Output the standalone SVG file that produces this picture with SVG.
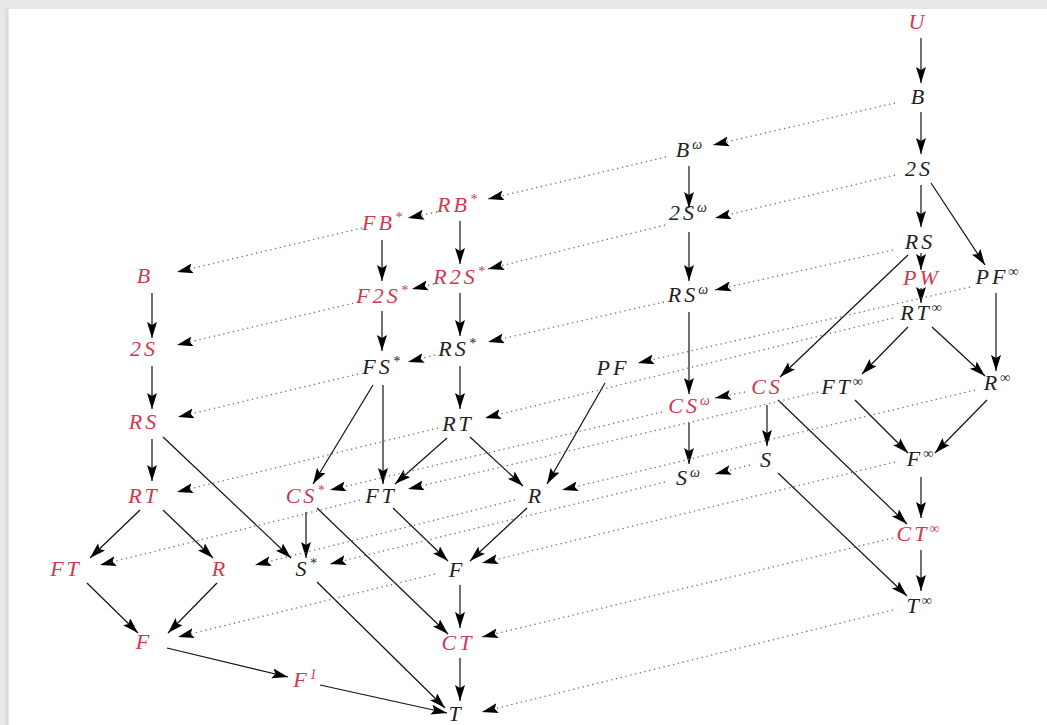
<svg xmlns="http://www.w3.org/2000/svg" width="1047" height="725" viewBox="0 0 1047 725">
<defs>
<style>
text{font-family:"Liberation Serif","DejaVu Serif",serif;font-style:italic;font-size:22px;letter-spacing:3px;text-anchor:middle;fill:#222}
text.r{fill:#d0384e}
.sup{font-size:14px;letter-spacing:0}
.s{fill:none;stroke:#111;stroke-width:1.2;marker-end:url(#ah)}
.d{fill:none;stroke:#707070;stroke-width:1.3;stroke-dasharray:1.3 3.6;marker-end:url(#ah)}
</style>
<marker id="ah" markerUnits="userSpaceOnUse" markerWidth="18" markerHeight="12" refX="16" refY="5" orient="auto">
<path d="M0,0 L16,5 L0,10 L3,5 Z" fill="#000"/>
</marker>
</defs>
<rect x="0" y="0" width="1047" height="725" fill="#e8e8e8"/>
<rect x="5" y="9" width="3" height="716" fill="#dcdcdc"/>
<rect x="9" y="9" width="1038" height="716" fill="#ffffff"/>

<g id="connectors">
<!-- solid, right column -->
<path class="s" d="M921,38 L921,83"/>
<path class="s" d="M921,112 L921,154"/>
<path class="s" d="M921,185 L921,227"/>
<path class="s" d="M931,183 L985,265"/>
<path class="s" d="M921,253 L921,270"/>
<path class="s" d="M921,288 L921,303"/>
<path class="s" d="M996,293 L996,371"/>
<path class="s" d="M908,255 L780,377"/>
<path class="s" d="M908,327 L862,374"/>
<path class="s" d="M932,327 L985,376"/>
<path class="s" d="M855,400 L908,453"/>
<path class="s" d="M987,400 L935,453"/>
<path class="s" d="M767,405 L767,446"/>
<path class="s" d="M778,400 L907,524"/>
<path class="s" d="M921,477 L921,518"/>
<path class="s" d="M921,550 L921,591"/>
<path class="s" d="M778,473 L907,596"/>
<!-- solid, omega column -->
<path class="s" d="M689,166 L689,208"/>
<path class="s" d="M689,232 L689,281"/>
<path class="s" d="M689,312 L689,394"/>
<path class="s" d="M689,423 L689,464"/>
<!-- solid, star columns -->
<path class="s" d="M460,221 L460,264"/>
<path class="s" d="M460,293 L460,336"/>
<path class="s" d="M460,366 L460,409"/>
<path class="s" d="M382,240 L382,281"/>
<path class="s" d="M382,311 L382,351"/>
<path class="s" d="M373,385 L313,484"/>
<path class="s" d="M383,385 L383,484"/>
<path class="s" d="M447,438 L395,484"/>
<path class="s" d="M470,437 L523,486"/>
<path class="s" d="M605,383 L547,484"/>
<path class="s" d="M306,512 L306,558"/>
<path class="s" d="M317,508 L448,634"/>
<path class="s" d="M393,508 L448,561"/>
<path class="s" d="M527,508 L470,561"/>
<path class="s" d="M460,585 L460,628"/>
<path class="s" d="M460,658 L460,701"/>
<path class="s" d="M317,582 L445,708"/>
<path class="s" d="M320,685 L447,713"/>
<!-- solid, left column -->
<path class="s" d="M152,293 L152,338"/>
<path class="s" d="M152,366 L152,409"/>
<path class="s" d="M152,439 L152,481"/>
<path class="s" d="M163,437 L291,558"/>
<path class="s" d="M140,510 L90,558"/>
<path class="s" d="M163,510 L213,558"/>
<path class="s" d="M87,583 L138,633"/>
<path class="s" d="M217,583 L168,633"/>
<path class="s" d="M167,648 L288,677"/>
<!-- dotted -->
<path class="d" d="M895,103 L713,145"/>
<path class="d" d="M666,157 L488,199"/>
<path class="d" d="M437,212 L408,218"/>
<path class="d" d="M362,228 L177,272"/>
<path class="d" d="M895,175 L715,218"/>
<path class="d" d="M665,225 L488,269"/>
<path class="d" d="M434,284 L412,289"/>
<path class="d" d="M358,302 L177,345"/>
<path class="d" d="M893,250 L715,290"/>
<path class="d" d="M664,302 L488,342"/>
<path class="d" d="M435,355 L408,362"/>
<path class="d" d="M358,374 L178,417"/>
<path class="d" d="M970,287 L638,363"/>
<path class="d" d="M893,318 L485,418"/>
<path class="d" d="M745,392 L715,398"/>
<path class="d" d="M750,465 L715,474"/>
<path class="d" d="M662,412 L330,490"/>
<path class="d" d="M818,392 L408,489"/>
<path class="d" d="M975,390 L562,490"/>
<path class="d" d="M438,428 L177,492"/>
<path class="d" d="M360,500 L100,565"/>
<path class="d" d="M515,500 L255,565"/>
<path class="d" d="M665,482 L330,564"/>
<path class="d" d="M895,462 L482,563"/>
<path class="d" d="M435,574 L178,637"/>
<path class="d" d="M893,538 L482,637"/>
<path class="d" d="M893,610 L482,712"/>
</g>

<!-- right column -->
<g id="n-U"><text class="r" x="918" y="29">U</text></g>
<g id="n-B-inf"><text x="919" y="104">B</text></g>
<g id="n-2S-inf"><text x="919" y="176">2S</text></g>
<g id="n-RS-inf"><text x="920" y="249">RS</text></g>
<g id="n-PW"><text class="r" x="922" y="285">PW</text></g>
<g id="n-PFinf"><text x="997" y="284">PF<tspan class="sup" dy="-8">∞</tspan></text></g>
<g id="n-RTinf"><text x="921" y="320">RT<tspan class="sup" dy="-8">∞</tspan></text></g>
<g id="n-CS"><text class="r" x="767" y="394">CS</text></g>
<g id="n-FTinf"><text x="842" y="394">FT<tspan class="sup" dy="-8">∞</tspan></text></g>
<g id="n-Rinf"><text x="997" y="390">R<tspan class="sup" dy="-8">∞</tspan></text></g>
<g id="n-S"><text x="767" y="467">S</text></g>
<g id="n-Finf"><text x="920" y="466">F<tspan class="sup" dy="-8">∞</tspan></text></g>
<g id="n-CTinf"><text class="r" x="918" y="541">CT<tspan class="sup" dy="-8">∞</tspan></text></g>
<g id="n-Tinf"><text x="919" y="613">T<tspan class="sup" dy="-8">∞</tspan></text></g>
<!-- omega column -->
<g id="n-Bw"><text x="689" y="157">B<tspan class="sup" dy="-8">ω</tspan></text></g>
<g id="n-2Sw"><text x="688" y="220">2S<tspan class="sup" dy="-8">ω</tspan></text></g>
<g id="n-RSw"><text x="688" y="302">RS<tspan class="sup" dy="-8">ω</tspan></text></g>
<g id="n-PF"><text x="613" y="375">PF</text></g>
<g id="n-CSw"><text class="r" x="689" y="413">CS<tspan class="sup" dy="-8">ω</tspan></text></g>
<g id="n-Sw"><text x="688" y="485">S<tspan class="sup" dy="-8">ω</tspan></text></g>
<!-- star columns -->
<g id="n-RBs"><text class="r" x="457" y="212">RB<tspan class="sup" dy="-8">*</tspan></text></g>
<g id="n-FBs"><text class="r" x="382" y="230">FB<tspan class="sup" dy="-8">*</tspan></text></g>
<g id="n-R2Ss"><text class="r" x="459" y="284">R2S<tspan class="sup" dy="-8">*</tspan></text></g>
<g id="n-F2Ss"><text class="r" x="382" y="303">F2S<tspan class="sup" dy="-8">*</tspan></text></g>
<g id="n-RSs"><text x="457" y="356">RS<tspan class="sup" dy="-8">*</tspan></text></g>
<g id="n-FSs"><text x="381" y="374">FS<tspan class="sup" dy="-8">*</tspan></text></g>
<g id="n-RT-s"><text x="458" y="431">RT</text></g>
<g id="n-CSs"><text class="r" x="305" y="503">CS<tspan class="sup" dy="-8">*</tspan></text></g>
<g id="n-FT-s"><text x="381" y="503">FT</text></g>
<g id="n-R-s"><text x="536" y="503">R</text></g>
<g id="n-Ss"><text x="306" y="576">S<tspan class="sup" dy="-8">*</tspan></text></g>
<g id="n-F-s"><text x="457" y="577">F</text></g>
<g id="n-CT"><text class="r" x="458" y="650">CT</text></g>
<g id="n-T"><text x="456" y="721">T</text></g>
<g id="n-F1"><text class="r" x="305" y="687">F<tspan class="sup" dy="-8">1</tspan></text></g>
<!-- left finite column -->
<g id="n-B-f"><text class="r" x="145" y="283">B</text></g>
<g id="n-2S-f"><text class="r" x="144" y="356">2S</text></g>
<g id="n-RS-f"><text class="r" x="144" y="429">RS</text></g>
<g id="n-RT-f"><text class="r" x="144" y="503">RT</text></g>
<g id="n-FT-f"><text class="r" x="66" y="576">FT</text></g>
<g id="n-R-f"><text class="r" x="220" y="576">R</text></g>
<g id="n-F-f"><text class="r" x="144" y="649">F</text></g>
</svg>
